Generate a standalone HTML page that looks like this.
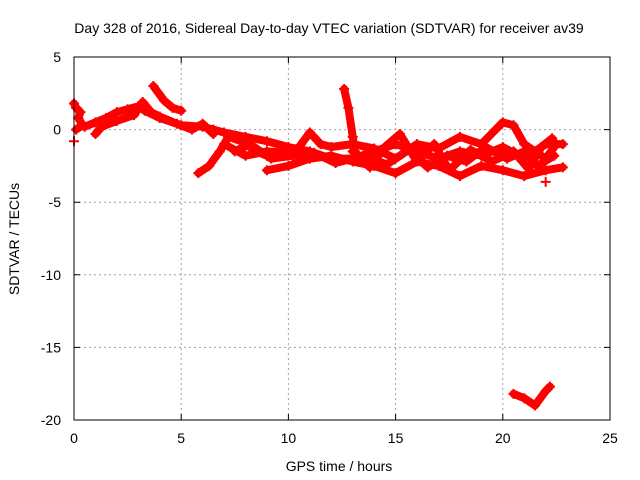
<!DOCTYPE html>
<html><head><meta charset="utf-8"><style>
body{margin:0;background:#fff;}
svg{display:block;font-family:"Liberation Sans",sans-serif;font-size:14px;}
</style></head><body>
<svg id="chart" width="640" height="480">
<text x="329" y="33" text-anchor="middle">Day 328 of 2016, Sidereal Day-to-day VTEC variation (SDTVAR) for receiver av39</text>
<g id="grid"></g>
<g id="axes"></g>
<g id="series"></g>
<rect x="74" y="57" width="536" height="363" fill="none" stroke="#000" stroke-width="1"/>
<text x="339" y="471" text-anchor="middle">GPS time / hours</text>
<text transform="translate(19,239) rotate(-90)" text-anchor="middle">SDTVAR / TECUs</text>
</svg>
<script>
const xTicks=[0,5,10,15,20,25];
const yTicks=[5,0,-5,-10,-15,-20];
const trackUpper=[[0.5,0.2],[1,0.5],[1.5,0.8],[2,1.2],[2.5,1.4],[3,1.6],[3.3,1.3],[4,0.8],[5,0.3],[6,0.2],[6.5,0],[7,-0.2],[8,-0.5],[9,-0.8],[10,-1.2],[11,-1.5],[12,-2],[13,-2],[14,-1.5],[15,-1],[16,-1.5],[17,-2],[18,-1.5],[19,-1.8],[20,-1.2],[21,-2],[22,-1],[22.8,-1]];
const trackSecond=[[1,-0.3],[1.3,0.2],[2,0.6],[2.8,1],[3.2,1.9],[3.6,1.2],[4,0.9],[4.8,0.4],[5.5,0],[6,0.4],[6.5,-0.3]];
const trackSpikeA=[[3.7,3],[4.2,2],[4.6,1.5],[5,1.3]];
const trackRise=[[5.8,-3],[6.3,-2.5],[6.8,-1.5],[7.2,-0.5],[7.8,-0.8],[8.5,-1.5],[9,-1.8]];
const trackLower=[[9,-2.8],[10,-2.5],[11,-2],[12,-1.8],[13,-2.2],[14,-2.5],[15,-3],[16,-2.2],[17,-2.5],[18,-3.2],[19,-2.5],[20,-2.8],[21,-3.2],[22,-2.8],[22.8,-2.6]];
const trackMid=[[7,-1],[8,-1.8],[9,-1.5],[10,-1.6],[10.5,-1.2],[11,-0.2],[11.5,-1],[12,-1.2],[13,-1],[14,-1.3],[15,-2],[16,-1],[17,-1.3],[18,-0.5],[19,-1],[20,0.5],[20.5,0.3],[21,-1],[21.5,-1.5],[22,-2],[22.5,-1]];
const trackSpikeB=[[12.6,2.8],[12.8,1.5],[13,-0.5],[13.1,-1.5]];
const trackMid2=[[13,-1.5],[13.8,-2.6],[14.5,-1.2],[15.2,-0.3],[16,-2.2],[16.8,-1],[17.5,-2.8],[18.5,-1.4],[19.5,-2.2],[20.5,-1.5],[21.2,-2.7],[21.8,-1.2],[22.3,-0.6]];
const trackMid3=[[7.5,-1.5],[8.2,-1],[9.2,-2],[10.2,-1.8],[11.2,-1.6],[12.2,-2.3],[13.5,-1.8],[14.6,-2.4],[15.6,-1.4],[16.5,-2.6],[17.4,-1.8],[18.3,-2.2],[19.2,-1.2],[20.2,-2],[21,-1.5],[21.6,-2.5],[22.4,-1.8]];
const trackStart=[[0,1.8],[0.1,1.5],[0.3,1.2],[0.2,0.8],[0.4,0.3],[0.1,0]];
const trackStartLow=[[0,-0.8]];
const trackBottom=[[20.5,-18.2],[21,-18.5],[21.5,-19],[22,-18],[22.2,-17.7]];
const trackLate=[[22,-3.6]];
const series=[trackUpper,trackSecond,trackSpikeA,trackRise,trackLower,trackMid,trackSpikeB,trackMid2,trackMid3,trackStart,trackStartLow,trackBottom,trackLate];
const X0=74,X1=610,Y0=420,Y1=57;
const xs=v=>X0+(v-0)/25*(X1-X0);
const ys=v=>Y0-(v+20)/25*(Y0-Y1);
const NS="http://www.w3.org/2000/svg";
const grid=document.getElementById('grid'),axes=document.getElementById('axes'),ser=document.getElementById('series');
function mk(t,a){const e=document.createElementNS(NS,t);for(const k in a)e.setAttribute(k,a[k]);return e;}
xTicks.forEach(t=>{const x=xs(t);
 if(t>0&&t<25){const l=mk('line',{x1:x,y1:Y0,x2:x,y2:Y1,stroke:'#a0a0a0','stroke-dasharray':'2,3'});
 
 grid.appendChild(l);}
 const tk=mk('path',{d:`M${x},${Y0}v-6M${x},${Y1}v6`,stroke:'#000'});
 
 axes.appendChild(tk);
 const tx=mk('text',{x:x,y:443,'text-anchor':'middle'});tx.textContent=t;
 
 axes.appendChild(tx);});
yTicks.forEach(t=>{const y=ys(t);
 if(t>-20&&t<5){const l=mk('line',{x1:X0,y1:y,x2:X1,y2:y,stroke:'#a0a0a0','stroke-dasharray':'2,3'});
 
 grid.appendChild(l);}
 const tk=mk('path',{d:`M${X0},${y}h6M${X1},${y}h-6`,stroke:'#000'});
 
 axes.appendChild(tk);
 const tx=mk('text',{x:61,y:y+5,'text-anchor':'end'});tx.textContent=t;
 
 axes.appendChild(tx);});
series.forEach(tr=>{
 const pl=mk('polyline',{points:tr.map(p=>xs(p[0])+','+ys(p[1])).join(' '),fill:'none',stroke:'#f00','stroke-width':8,'stroke-linejoin':'round','stroke-linecap':'round'});
 
 ser.appendChild(pl);
 tr.forEach(p=>{const x=xs(p[0]),y=ys(p[1]);
  const m=mk('path',{d:`M${x-5},${y}h10M${x},${y-5}v10`,stroke:'#f00','stroke-width':2});
  
  ser.appendChild(m);});
});
</script>
</body></html>
